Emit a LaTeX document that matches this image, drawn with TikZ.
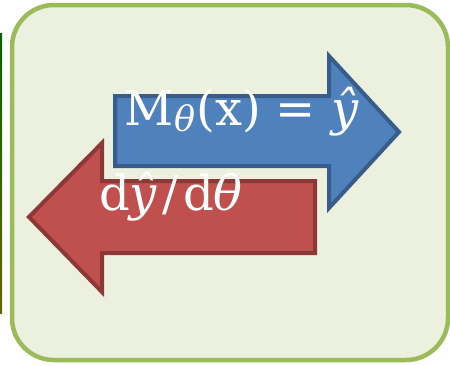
\documentclass[tikz,border=0pt]{standalone}
\usepackage{fontspec}
\usetikzlibrary{positioning}
\newfontfamily\dvserif{DejaVu Serif}
\definecolor{mlgreen}{RGB}{155,187,89}
\definecolor{mlpale}{RGB}{235,241,222}
\definecolor{mlblue}{RGB}{79,129,189}
\definecolor{mlbluedark}{RGB}{56,93,138}
\definecolor{mlred}{RGB}{192,80,77}
\definecolor{mlreddark}{RGB}{140,56,54}
\tikzset{
  panel/.style   = {draw=mlgreen, fill=mlpale, line width=4.5pt, rounded corners=42pt},
  fwdarrow/.style = {draw=mlbluedark, fill=mlblue, line width=4pt, line join=miter},
  bwdarrow/.style = {draw=mlreddark, fill=mlred, line width=4pt, line join=miter},
  formula/.style = {text=white, inner sep=0pt, anchor=base west,
                    font=\dvserif\fontsize{48}{52}\selectfont},
}
\begin{document}
\begin{tikzpicture}[x=1pt, y=-1pt]
    \useasboundingbox (0,0) rectangle (450,365);

    % sliver of the neighbouring photo on the far left
    \shade[top color=black!60!green, middle color=cyan!60!white, bottom color=olive!80!black]
          (0,33) rectangle (2,313);

    \draw[panel] (12,5) rectangle (448,360);

    % forward pass: model output
    \draw[fwdarrow] (115,96) -- (329,96) -- (329,56) -- (399,132)
                    -- (329,208) -- (329,166) -- (115,166) -- cycle;
    % backward pass: gradient
    \draw[bwdarrow] (29,217) -- (102,143) -- (102,181) -- (315,181)
                    -- (315,253) -- (102,253) -- (102,292) -- cycle;

    \node[formula] (fwdlabel) at (124,125)
         {M\kern1pt\raisebox{-0.28ex}{\fontsize{35}{38}\selectfont\itshape θ}\kern1pt(x)\hspace{15pt}=\hspace{15pt}{\itshape ŷ}};
    \node[formula] (bwdlabel) at (99,210) {d{\itshape ŷ}\hspace{5pt}/\hspace{5pt}d{\itshape θ}};
\end{tikzpicture}
\end{document}
